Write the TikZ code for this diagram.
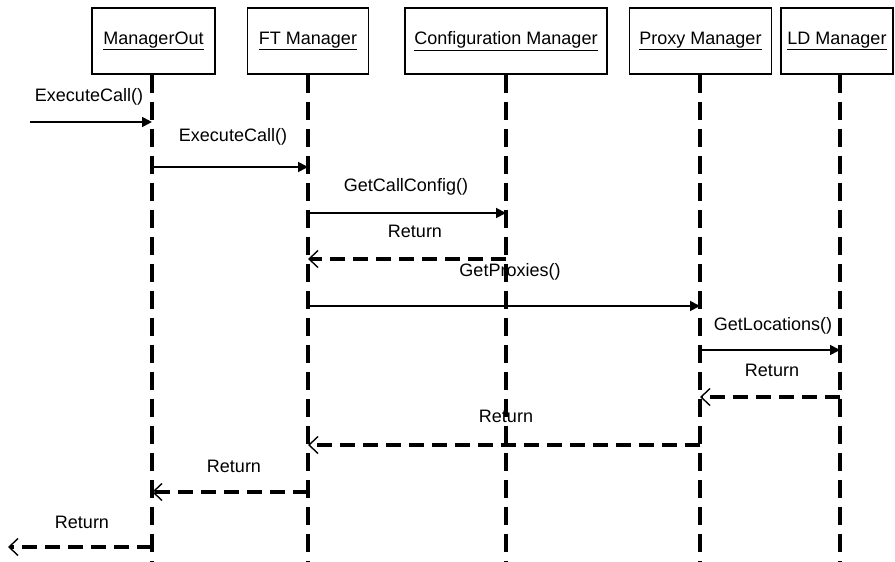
\documentclass[tikz,border=0pt]{standalone}
\usepackage{fontspec}
\setmainfont{Liberation Sans}
\usetikzlibrary{arrows.meta}
\begin{document}
\begin{tikzpicture}[x=1pt,y=-1pt,
  every node/.style={font=\fontsize{18}{21}\selectfont},
  objbox/.style={draw,line width=1.3pt,minimum height=66pt,inner sep=0pt},
  lifeline/.style={line width=3.8pt,dash pattern=on 18pt off 9pt},
  callmsg/.style={line width=1.8pt,-{Triangle[length=10pt,width=10pt]}},
  retmsg/.style={line width=4pt,dash pattern=on 15pt off 8pt,
    -{Straight Barb[length=9pt,width=17pt,line width=1.4pt]}},
  msglabel/.style={inner sep=1pt}]
\useasboundingbox (0,0) rectangle (895,562);

% participants
\node[objbox,minimum width=123pt] (mo) at (153.5,41) {\underline{ManagerOut}};
\node[objbox,minimum width=121pt] (ft) at (308,41) {\underline{FT Manager}};
\node[objbox,minimum width=202pt] (cm) at (506,41) {\underline{Configuration Manager}};
\node[objbox,minimum width=142pt] (pm) at (700.5,41) {\underline{Proxy Manager}};
\node[objbox,minimum width=112pt] (ld) at (837,41) {\underline{LD Manager}};

% lifelines
\coordinate (moend) at (152,562);
\coordinate (ftend) at (308,562);
\coordinate (cmend) at (506,562);
\coordinate (pmend) at (700,562);
\coordinate (ldend) at (840,562);
\draw[lifeline] (mo.south -| moend) -- (moend);
\draw[lifeline] (ft.south -| ftend) -- (ftend);
\draw[lifeline] (cm.south -| cmend) -- (cmend);
\draw[lifeline] (pm.south -| pmend) -- (pmend);
\draw[lifeline] (ld.south -| ldend) -- (ldend);

% message end points on the lifelines
\coordinate (caller) at (30,122);
\coordinate (m1) at (152,122);
\coordinate (m2a) at (152,167);  \coordinate (m2b) at (308,167);
\coordinate (m3a) at (308,213);  \coordinate (m3b) at (506,213);
\coordinate (r1a) at (506,259);  \coordinate (r1b) at (308,259);
\coordinate (m4a) at (308,306);  \coordinate (m4b) at (700,306);
\coordinate (m5a) at (700,350);  \coordinate (m5b) at (840,350);
\coordinate (r2a) at (840,397);  \coordinate (r2b) at (700,397);
\coordinate (r3a) at (700,445);  \coordinate (r3b) at (308,445);
\coordinate (r4a) at (308,492);  \coordinate (r4b) at (152,492);
\coordinate (r5a) at (152,547);  \coordinate (callerret) at (8,547);

% calls
\draw[callmsg] (caller) -- (m1);
\draw[callmsg] (m2a) -- (m2b);
\draw[callmsg] (m3a) -- (m3b);
\draw[callmsg] (m4a) -- (m4b);
\draw[callmsg] (m5a) -- (m5b);

% returns
\draw[retmsg] (r1a) -- (r1b);
\draw[retmsg] (r2a) -- (r2b);
\draw[retmsg] (r3a) -- (r3b);
\draw[retmsg] (r4a) -- (r4b);
\draw[retmsg] (r5a) -- (callerret);

% message labels
\node[msglabel] (l1) at (89,97) {ExecuteCall()};
\node[msglabel] (l2) at (233,137) {ExecuteCall()};
\node[msglabel] (l3) at (406,187) {GetCallConfig()};
\node[msglabel] (l4) at (415,231) {Return};
\node[msglabel] (l5) at (510,272) {GetProxies()};
\node[msglabel] (l6) at (773,326) {GetLocations()};
\node[msglabel] (l7) at (772,370) {Return};
\node[msglabel] (l8) at (506,416) {Return};
\node[msglabel] (l9) at (234,466) {Return};
\node[msglabel] (l10) at (82,522) {Return};
\end{tikzpicture}
\end{document}
